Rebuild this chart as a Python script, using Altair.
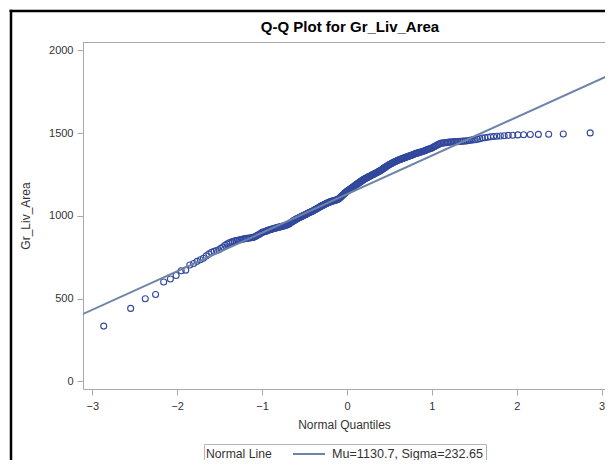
import altair as alt
import pandas as pd

TITLE = "Q-Q Plot for Gr_Liv_Area"
Y_TITLE = "Gr_Liv_Area"
X_TITLE = "Normal Quantiles"
LEGEND_TITLE = "Normal Line"
MU = 1130.7
SIGMA = 232.65
LEGEND_LABEL = "Mu=1130.7, Sigma=232.65"

# sorted sample values (one per circle)
gr_liv_area = [
    334, 441, 499, 525, 600, 618, 640, 668, 672, 703,
    712, 725, 735, 744, 758, 770, 780, 786, 790, 795,
    804, 812, 822, 830, 836, 840, 844, 847, 850, 852,
    854, 856, 858, 861, 862, 864, 865, 866, 868, 869,
    870, 874, 878, 882, 886, 890, 895, 900, 902, 904,
    906, 909, 912, 914, 916, 918, 920, 922, 924, 925,
    927, 929, 930, 932, 933, 935, 936, 938, 939, 941,
    943, 944, 946, 949, 952, 956, 960, 964, 968, 971,
    974, 977, 980, 983, 985, 988, 990, 993, 995, 998,
    1000, 1003, 1005, 1007, 1010, 1012, 1015, 1017, 1020, 1022,
    1024, 1026, 1028, 1030, 1033, 1036, 1038, 1041, 1044, 1046,
    1049, 1052, 1055, 1057, 1060, 1062, 1064, 1066, 1068, 1071,
    1073, 1075, 1077, 1079, 1081, 1083, 1085, 1086, 1088, 1089,
    1090, 1092, 1093, 1094, 1096, 1097, 1098, 1100, 1103, 1107,
    1111, 1115, 1119, 1123, 1127, 1131, 1135, 1139, 1143, 1147,
    1150, 1153, 1156, 1159, 1162, 1165, 1168, 1171, 1174, 1177,
    1180, 1184, 1187, 1190, 1193, 1196, 1199, 1202, 1205, 1208,
    1211, 1214, 1217, 1220, 1222, 1225, 1227, 1229, 1232, 1234,
    1237, 1239, 1241, 1243, 1246, 1248, 1250, 1253, 1255, 1257,
    1260, 1262, 1265, 1267, 1270, 1272, 1275, 1278, 1281, 1285,
    1288, 1291, 1294, 1298, 1301, 1304, 1307, 1310, 1313, 1315,
    1318, 1320, 1323, 1325, 1328, 1330, 1332, 1335, 1337, 1339,
    1341, 1343, 1345, 1347, 1349, 1351, 1353, 1355, 1357, 1359,
    1361, 1363, 1365, 1367, 1369, 1372, 1375, 1377, 1378, 1380,
    1382, 1384, 1386, 1388, 1390, 1392, 1395, 1397, 1400, 1402,
    1405, 1407, 1410, 1414, 1418, 1422, 1426, 1430, 1434, 1438,
    1439, 1440, 1441, 1442, 1443, 1445, 1446, 1446, 1447, 1448,
    1448, 1449, 1450, 1450, 1451, 1452, 1453, 1455, 1457, 1459,
    1460, 1463, 1466, 1470, 1472, 1475, 1478, 1479, 1481, 1482,
    1484, 1486, 1487, 1489, 1490, 1491, 1492, 1493, 1494, 1501,
]

x_ticks = [-3, -2, -1, 0, 1, 2, 3]
y_ticks = [0, 500, 1000, 1500, 2000]
x_domain = [-3.11, 3.04]
y_domain = [-46, 2050]
line_x = [-3.3, 3.3]

FONT = "Liberation Sans"
POINT_COLOR = "#32489c"
LINE_COLOR = "#6d84a8"
AXIS_GRAY = "#a9a9a9"
TEXT_GRAY = "#333333"

N = len(gr_liv_area)
pts = pd.DataFrame({"Gr_Liv_Area": gr_liv_area})
line_df = pd.DataFrame({"q": line_x, "label": [LEGEND_LABEL] * len(line_x)})
deco_df = pd.DataFrame({"a": [0]})

x_scale = alt.Scale(domain=x_domain, nice=False, zero=False)
y_scale = alt.Scale(domain=y_domain, nice=False, zero=False)

x_axis = alt.Axis(values=x_ticks, grid=False, tickSize=6, labelPadding=5,
                  titlePadding=8, format="d")
y_axis = alt.Axis(values=y_ticks, grid=False, tickSize=6, labelPadding=4,
                  titlePadding=16, format="d")

points = alt.Chart(pts).transform_window(
    rank="row_number()", sort=[alt.SortField("Gr_Liv_Area", order="ascending")]
).transform_calculate(
    q=f"quantileNormal((datum.rank - 0.375) / ({N} + 0.25))"
).mark_point(shape="circle", filled=False, size=36, strokeWidth=1.1,
             color=POINT_COLOR, opacity=1, clip=True).encode(
    x=alt.X("q:Q", scale=x_scale, axis=x_axis, title=X_TITLE),
    y=alt.Y("Gr_Liv_Area:Q", scale=y_scale, axis=y_axis, title=Y_TITLE),
)

line = alt.Chart(line_df).transform_calculate(
    y=f"{MU} + {SIGMA} * datum.q"
).mark_line(strokeWidth=2, clip=True).encode(
    x=alt.X("q:Q", scale=x_scale),
    y=alt.Y("y:Q", scale=y_scale),
    color=alt.Color(
        "label:N",
        scale=alt.Scale(range=[LINE_COLOR]),
        legend=alt.Legend(
            title=LEGEND_TITLE, titleOrient="left", orient="none",
            legendX=121, legendY=402, symbolType="stroke", symbolSize=1024,
            symbolStrokeWidth=2, clipHeight=16, labelFontSize=12.6, titleFontSize=12.2,
            titleFontWeight="normal", labelFont=FONT, titleFont=FONT,
            labelColor=TEXT_GRAY, titleColor=TEXT_GRAY, strokeColor="#b5b5b5",
            padding=2, labelOffset=6, titlePadding=20,
        ),
    ),
)

title_mark = alt.Chart(deco_df).mark_text(
    text=TITLE, font=FONT, fontSize=15, fontWeight="bold", color="black",
    align="center", baseline="middle",
).encode(x=alt.value(267), y=alt.value(-15))

plot_top = alt.Chart(deco_df).mark_rule(color=AXIS_GRAY, strokeWidth=1).encode(
    x=alt.value(0), x2=alt.value(530), y=alt.value(0.5))

frame_top = alt.Chart(deco_df).mark_rule(color="black", strokeWidth=2.5).encode(
    x=alt.value(-73.5), x2=alt.value(560), y=alt.value(-31))
frame_left = alt.Chart(deco_df).mark_rule(color="black", strokeWidth=2.5).encode(
    x=alt.value(-72), y=alt.value(-32.2), y2=alt.value(440))

chart = alt.layer(points, line, plot_top, title_mark, frame_top, frame_left).properties(
    width=522,
    height=347,
    autosize=alt.AutoSizeParams(type="none"),
    padding={"left": 75, "top": 34, "right": 0, "bottom": 71},
).configure_view(
    strokeWidth=0
).configure_axis(
    domainColor=AXIS_GRAY, tickColor=AXIS_GRAY, labelColor=TEXT_GRAY,
    titleColor=TEXT_GRAY, labelFont=FONT, titleFont=FONT, labelFontSize=11,
    titleFontSize=12, titleFontWeight="normal",
)

chart.save("out.html", embed_options={"renderer": "svg", "actions": False})
